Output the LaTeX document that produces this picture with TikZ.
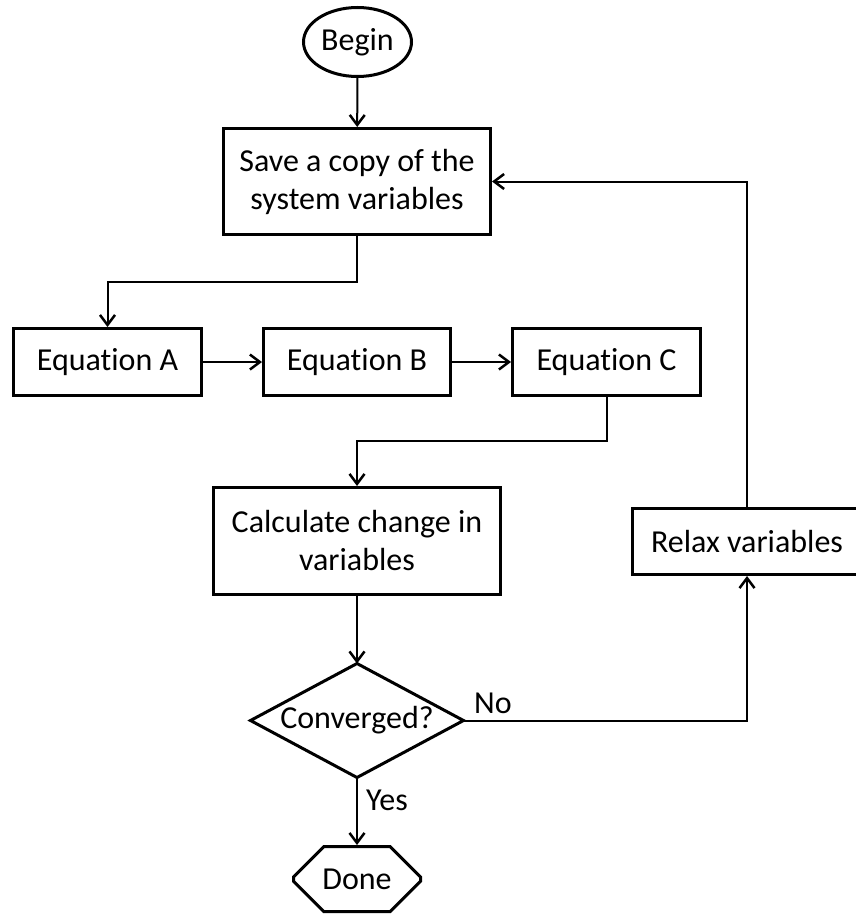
\documentclass[tikz,border=0pt]{standalone}
\usepackage{fontspec}
\setmainfont{Carlito}[Ligatures=NoCommon]
\usetikzlibrary{arrows.meta,shapes.geometric,shapes.misc}
\tikzset{
  txt/.style={font=\fontsize{32}{38}\selectfont},
  box/.style={draw, line width=3pt, rectangle, inner sep=0pt, align=center, txt},
  conn/.style={line width=2pt, -{Straight Barb[length=10pt,width=15pt,line width=2.5pt]}},
  lbl/.style={txt, inner sep=0pt}
}
\begin{document}
\begin{tikzpicture}[x=1pt,y=-1pt]
\useasboundingbox (0,0) rectangle (855,915);
\node[box, ellipse, minimum width=108pt, minimum height=69pt] (begin) at (357.5,42) {Begin};
\node[box, minimum width=267pt, minimum height=106pt] (save) at (357,181.5) {Save a copy of the\\system variables};
\node[box, minimum width=188pt, minimum height=67pt] (eqA) at (107.5,362) {Equation A};
\node[box, minimum width=187pt, minimum height=67pt] (eqB) at (357,362) {Equation B};
\node[box, minimum width=188pt, minimum height=67pt] (eqC) at (606.5,362) {Equation C};
\node[box, minimum width=287pt, minimum height=107pt] (calc) at (357,541) {Calculate change in\\variables};
\node[box, draw=none, minimum width=210pt, minimum height=111pt] (conv) at (357,720.5) {Converged?};
\draw[line width=3pt, line join=miter] (conv.north) -- (conv.east) -- (conv.south) -- (conv.west) -- cycle;
\node[box, chamfered rectangle, chamfered rectangle xsep=20pt, chamfered rectangle ysep=20pt, minimum width=127pt, minimum height=65pt] (done) at (357,879) {Done};
\node[box, minimum width=229pt, minimum height=66pt] (relax) at (747,541.5) {Relax variables};

\draw[conn] (begin) -- (save);
\draw[conn] (save.south) -- ++(0,46) -| (eqA.north);
\draw[conn] (eqA) -- (eqB);
\draw[conn] (eqB) -- (eqC);
\draw[conn] (eqC.south) -- ++(0,44) -| (calc.north);
\draw[conn] (calc) -- (conv.north);
\draw[conn] (conv.east) -| (relax.south);
\draw[conn] (relax.north) |- (save.east);
\draw[conn] (conv.south) -- (done.north);
\node[lbl] (no) at (493,703) {No};
\node[lbl] (yes) at (387,800) {Yes};
\end{tikzpicture}
\end{document}
